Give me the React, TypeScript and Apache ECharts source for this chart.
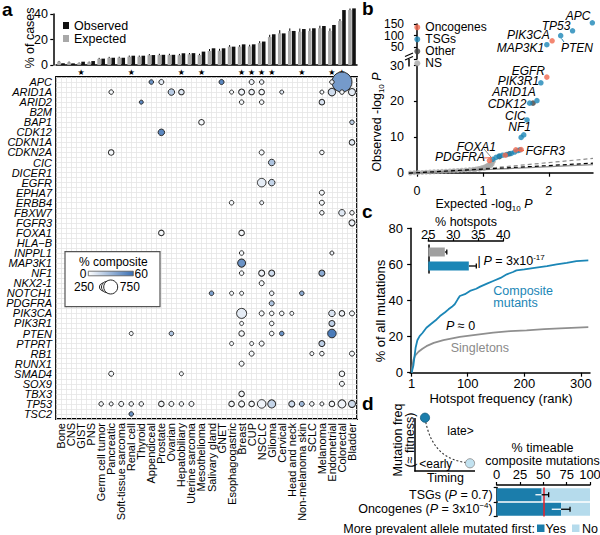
import React, { useEffect, useRef } from 'react';
import * as echarts from 'echarts';

const FONT = '"Liberation Sans", Arial, Helvetica, sans-serif';

// ---------- Panel a ----------
const cancers = ['Bone','CNS','GIST','PNS','Germ cell tumor','Pancreatic','Soft-tissue sarcoma','Renal cell','Thyroid','Appendiceal','Prostate','Ovarian','Hepatobiliary','Uterine sarcoma','Mesothelioma','Salivary gland','GNET','Esophagogastric','Breast','CUP','NSCLC','Glioma','Cervical','Head and neck','Non-melanoma skin','SCLC','Melanoma','Endometrial','Colorectal','Bladder'];
const observedPct = [1.3,1.3,2.6,3.1,5.0,5.7,5.7,7.3,7.3,7.8,8.0,8.0,9.2,9.3,10.5,13.1,13.1,14.4,16.2,16.2,18.4,24.1,24.8,26.7,28.2,28.8,30.6,31.4,43.1,44.4];
const expectedPct = [2.6,2.1,1.5,2.1,4.8,5.6,5.7,6.5,6.5,7.7,7.8,7.8,7.7,8.4,7.8,11.0,11.2,14.4,14.4,14.6,17.2,21.9,24.8,26.7,26.1,26.7,28.8,26.7,34.5,43.1];
const expectedErr = [0.6,0.6,0.5,0.6,0.8,0.8,0.8,0.9,0.9,0.9,1,1,1,1,1,1.5,1.5,1.2,1.2,1.3,1.5,1.8,2.5,2,2.5,2,2,2,1.5,1.2];
const significant = [0,0,1,0,0,0,0,1,0,0,0,0,1,0,1,0,0,0,1,1,1,1,0,0,1,0,0,1,1,0];
const yTicksA = [0, 20, 40];
const genes = ['APC','ARID1A','ARID2','B2M','BAP1','CDK12','CDKN1A','CDKN2A','CIC','DICER1','EGFR','EPHA7','ERBB4','FBXW7','FGFR3','FOXA1','HLA\u2212B','INPPL1','MAP3K1','NF1','NKX2-1','NOTCH1','PDGFRA','PIK3CA','PIK3R1','PTEN','PTPRT','RB1','RUNX1','SMAD4','SOX9','TBX3','TP53','TSC2'];
// [gene, cancer type, N, % composite]
const bubbles: [string, string, number, number][] = [
  ['APC','Appendiceal',78,45],['APC','Prostate',96,8],['APC','GNET',96,50],['APC','CUP',96,5],['APC','NSCLC',78,5],['APC','Endometrial',78,5],['APC','Colorectal',1530,42],
  ['ARID1A','Pancreatic',78,3],['ARID1A','Ovarian',162,22],['ARID1A','Hepatobiliary',116,10],['ARID1A','Esophagogastric',61,3],['ARID1A','Breast',138,5],['ARID1A','CUP',116,5],['ARID1A','NSCLC',116,3],['ARID1A','Cervical',61,10],['ARID1A','Melanoma',61,3],['ARID1A','Endometrial',215,15],['ARID1A','Colorectal',78,3],['ARID1A','Bladder',188,8],
  ['ARID2','Thyroid',61,50],['ARID2','Breast',78,3],['ARID2','NSCLC',78,3],['ARID2','Melanoma',116,12],
  ['BAP1','Mesothelioma',116,3],['BAP1','Bladder',78,20],
  ['CDK12','Prostate',162,50],
  ['CDKN1A','Bladder',116,8],
  ['CDKN2A','Pancreatic',116,3],['CDKN2A','NSCLC',96,3],['CDKN2A','Melanoma',78,3],
  ['CIC','Glioma',162,25],
  ['EGFR','NSCLC',277,8],['EGFR','Glioma',162,18],
  ['EPHA7','Melanoma',96,3],
  ['ERBB4','Esophagogastric',78,3],['ERBB4','NSCLC',61,5],['ERBB4','Melanoma',96,3],
  ['FBXW7','Melanoma',78,3],['FBXW7','Colorectal',162,10],['FBXW7','Bladder',78,3],
  ['FGFR3','Bladder',138,5],
  ['FOXA1','Prostate',116,3],['FOXA1','Breast',116,3],
  ['INPPL1','Breast',78,3],['INPPL1','Endometrial',61,5],
  ['MAP3K1','Breast',245,45],
  ['NF1','Breast',78,3],['NF1','NSCLC',138,5],['NF1','Glioma',138,15],['NF1','Melanoma',138,35],
  ['NKX2-1','NSCLC',96,3],
  ['NOTCH1','Salivary gland',78,40],['NOTCH1','Esophagogastric',61,3],['NOTCH1','Breast',61,3],['NOTCH1','Glioma',78,5],['NOTCH1','Non-melanoma skin',78,35],
  ['PDGFRA','Glioma',96,25],
  ['PIK3CA','Breast',383,8],['PIK3CA','NSCLC',96,3],['PIK3CA','Glioma',78,3],['PIK3CA','Cervical',78,3],['PIK3CA','Head and neck',61,3],['PIK3CA','Endometrial',162,12],['PIK3CA','Colorectal',116,5],['PIK3CA','Bladder',96,3],
  ['PIK3R1','Breast',61,3],['PIK3R1','Glioma',78,3],['PIK3R1','Endometrial',138,20],
  ['PTEN','Renal cell',61,3],['PTEN','Ovarian',78,25],['PTEN','Breast',116,3],['PTEN','Glioma',78,3],['PTEN','Cervical',78,45],['PTEN','Endometrial',277,55],
  ['PTPRT','Esophagogastric',61,3],['PTPRT','CUP',61,3],['PTPRT','NSCLC',96,3],['PTPRT','Melanoma',138,20],
  ['RB1','CUP',96,3],['RB1','SCLC',61,3],['RB1','Melanoma',78,3],['RB1','Bladder',96,3],
  ['RUNX1','Breast',96,3],
  ['SMAD4','Pancreatic',96,3],['SMAD4','Hepatobiliary',61,3],['SMAD4','Colorectal',116,3],
  ['SOX9','Colorectal',96,3],
  ['TBX3','Breast',116,3],
  ['TP53','Germ cell tumor',78,3],['TP53','Pancreatic',61,3],['TP53','Soft-tissue sarcoma',96,3],['TP53','Renal cell',78,3],['TP53','Thyroid',78,3],['TP53','Prostate',116,3],['TP53','Ovarian',96,3],['TP53','Hepatobiliary',78,3],['TP53','Uterine sarcoma',96,3],['TP53','Esophagogastric',116,3],['TP53','Breast',138,3],['TP53','CUP',116,3],['TP53','NSCLC',277,5],['TP53','Glioma',245,18],['TP53','Head and neck',138,15],['TP53','Non-melanoma skin',96,30],['TP53','SCLC',78,3],['TP53','Melanoma',61,3],['TP53','Endometrial',116,3],['TP53','Colorectal',245,5],['TP53','Bladder',188,15],
  ['TSC2','Renal cell',78,45],
];
const legendN = [250, 500, 750];

// ---------- Panel b ----------
const nsPoints = [[-0.1,-0.08],[-0.04,0],[0.02,0.05],[0.08,0.08],[0.14,0.15],[0.2,0.2],[0.26,0.26],[0.32,0.3],[0.38,0.38],[0.44,0.43],[0.5,0.5],[0.56,0.55],[0.62,0.62],[0.68,0.7],[0.74,0.77],[0.8,0.86],[0.85,0.95],[0.9,1.05],[0.94,1.2],[0.98,1.35],[1.01,1.5],[1.04,1.7],[1.06,1.9],[1.08,2.1],[1.1,2.35],[1.12,2.6],[1.14,2.9],[1.16,3.2],[0.95,1.0],[1.02,1.25],[1.08,1.6],[1.12,2.0],[0.88,0.85],[1.14,2.4]];
const tsgLower = [[1.88,25.2],[1.82,20.2],[1.71,19.5],[1.67,14.8],[1.62,10.6],[1.58,9.9],[1.15,3.75],[1.2,4.3],[1.25,4.7],[1.3,4.9],[1.36,5.1],[1.43,5.4],[1.48,5.8],[1.53,6.2],[1.56,6.4]];
const tsgUpper = [[2.66,155],[2.36,121],[2.18,100],[1.97,61]];
const oncLower = [[1.97,26.8],[1.1,3.4],[1.34,4.9],[1.5,6.4],[1.58,6.5]];
const oncUpper = [[2.05,78]];
const otherLower = [[1.76,19.5],[1.25,4.5],[1.4,5.3]];
const expectedLine = [[-0.12,-0.12],[2.67,2.67]];
const ciUpper = [[-0.12,-0.12],[1.2,1.45],[2.67,4.0]];
const ciLower = [[-0.12,-0.12],[1.2,1.0],[2.67,2.25]];
const yTicksBLower = [0, 10, 20, 30];
const yTicksBUpper = [50, 100, 150];

// ---------- Panel c ----------
const compositeCurve = [[1,0],[2,1.5],[4,4],[6,9],[8,14],[11,18],[15,20.3],[20,22],[27,24.9],[35,27],[45,29.5],[51,31.4],[60,33.5],[66,35.1],[72,36.5],[77,37.9],[82,40.5],[86,42.5],[95,43.5],[104,45.3],[115,46.5],[122,47.7],[135,49.5],[145,50.8],[158,52.5],[169,54.5],[180,55.8],[186,56.7],[200,57.2],[221,58.2],[240,59],[257,60],[275,60.8],[292,61.8],[313,62.2]];
const singletonCurve = [[1,0],[2,3],[4,7],[7,9.5],[13,11.6],[20,13.3],[27,14.7],[40,16.5],[57,18],[86,19.8],[110,20.8],[145,22.2],[175,23],[204,23.5],[235,24.1],[263,24.6],[313,25.2]];
const yTicksC = [0, 20, 40, 60, 80];
const hotspotCats = ['Singletons','Composite'];
const hotspotPct = [28.3, 33.1];
const hotspotErr = [[27.9,28.3,28.7],[31.6,33.1,34.6]];

// ---------- Panel d ----------
const timingCats = ['TSGs','Oncogenes'];
const timingP = ['{n|0.7}','{n|3x10}{sup|\u22124}'];
const yesPct = [48.2, 69];
const noPct = [51.8, 31];
const yesErr = [[41.5,48.2,55.7],[59,69,78.6]];

const TEAL = '#1b86b6';
const ORANGE = '#f0694f';
const BUBBLE_BLUE = '#3a6fb3';
const YES = '#1b7dab';
const NO = '#b5dbec';
const sizeOf = (n: number) => 14 * Math.sqrt(n / 750);

const rt = (extra: any = {}) => ({ fontFamily: FONT, fontSize: 12.5, fontStyle: 'normal', fill: '#000', color: '#000', ...extra });

const T = (x: number, y: number, text: string, o: any = {}) => ({
  type: 'text', x, y, rotation: o.rot || 0, silent: true, z: 20,
  style: {
    text, fill: o.color || '#000', fontFamily: FONT, fontSize: o.size || 12.5,
    fontStyle: o.italic ? 'italic' : 'normal', fontWeight: o.bold ? 'bold' : 'normal',
    align: o.align || 'left', verticalAlign: o.va || 'middle',
    textAlign: o.align || 'left', textVerticalAlign: o.va || 'middle',
    rich: o.rich,
  },
});
const L = (x1: number, y1: number, x2: number, y2: number, stroke = '#000', lw = 1, dash?: number[]) => ({
  type: 'line', silent: true, z: 20, shape: { x1, y1, x2, y2 }, style: { stroke, lineWidth: lw, lineDash: dash },
});

const blackLine = { show: true, lineStyle: { color: '#000', width: 1.5 } };
const lab = (extra: any = {}) => ({ show: true, color: '#000', fontSize: 12.5, fontFamily: FONT, ...extra });
const tick = (extra: any = {}) => ({ show: true, length: 4, lineStyle: { color: '#000', width: 1.2 }, ...extra });
const num = (v: number) => String(v);

// vertical value axes whose tick labels are placed through the axis scale
const yTickSpecs = [
  { yAxisIndex: 0, values: yTicksA, right: 48, size: 12.5 },
  { yAxisIndex: 2, values: yTicksBLower, right: 404, size: 12.5 },
  { yAxisIndex: 3, values: yTicksBUpper, right: 404, size: 12 },
  { yAxisIndex: 4, values: yTicksC, right: 403, size: 13 },
];

function buildOption() {
  const bubbleData = bubbles
    .map(([g, c, n, p]) => [cancers.indexOf(c), genes.indexOf(g), n, p])
    .sort((a, b) => b[2] - a[2]);

  const grids = [
    { left: 56, top: 14, width: 301, height: 51 },
    { left: 56, top: 77, width: 301, height: 342, show: true, borderColor: '#000', borderWidth: 1.8, backgroundColor: '#fff' },
    { left: 409, top: 65.7, width: 184, height: 107 },
    { left: 409, top: 24, width: 184, height: 34.95 },
    { left: 410, top: 228.3, width: 180, height: 144.4 },
    { left: 428.3, top: 245, width: 75, height: 28 },
    { left: 496.7, top: 487.5, width: 93.3, height: 29 },
  ].map((g) => ({ containLabel: false, outerBoundsMode: 'none', ...g }));

  const gridLine = { show: true, lineStyle: { color: '#e4e4e4', width: 0.8 } };

  const xAxis: any[] = [
    { gridIndex: 0, type: 'category', data: cancers, boundaryGap: true, axisLine: blackLine, axisTick: { show: false },
      axisLabel: { interval: 0, formatter: (_v: any, i: number) => (significant[i] ? '\u2605' : ''), fontSize: 8, color: '#000', margin: 3, fontFamily: 'DejaVu Sans' }, splitLine: { show: false } },
    { gridIndex: 1, type: 'category', data: cancers, boundaryGap: true, position: 'bottom', axisLine: { show: false }, axisTick: { show: false },
      axisLabel: lab({ interval: 0, rotate: 90, fontSize: 11, margin: 4 }), splitLine: { show: false } },
    { gridIndex: 2, type: 'value', min: -0.12, max: 2.67, offset: 5.6, axisLine: blackLine, axisTick: tick({ customValues: [0, 1, 2] }),
      axisLabel: lab({ customValues: [0, 1, 2], formatter: num, margin: 6 }), splitLine: { show: false } },
    { gridIndex: 3, type: 'value', min: -0.12, max: 2.67, show: false },
    { gridIndex: 4, type: 'value', min: -2, max: 316, offset: 3, axisLine: blackLine, axisTick: tick({ customValues: [1, 100, 200, 300] }),
      axisLabel: lab({ customValues: [1, 100, 200, 300], formatter: num, margin: 1, fontSize: 13 }), splitLine: { show: false } },
    { gridIndex: 5, type: 'value', position: 'top', min: 25, max: 40, interval: 5, offset: 4, axisLine: blackLine, axisTick: tick({ length: 3 }),
      axisLabel: lab({ margin: 0, fontSize: 13 }), splitLine: { show: false } },
    { gridIndex: 6, type: 'value', position: 'top', min: 0, max: 100, interval: 25, offset: 2.5, axisLine: blackLine, axisTick: tick({ length: 3 }),
      axisLabel: lab({ margin: 4, fontSize: 13 }), splitLine: { show: false } },
    { gridIndex: 1, type: 'value', position: 'top', min: -0.5, max: 29.5, interval: 0.5, axisLine: { show: false }, axisTick: { show: false }, axisLabel: { show: false }, splitLine: gridLine },
  ];

  const yAxis: any[] = [
    { gridIndex: 0, type: 'value', min: 0, max: 40, interval: 20, offset: 2.7, axisLine: blackLine, axisTick: tick({ length: 3 }), axisLabel: { show: false }, splitLine: { show: false } },
    { gridIndex: 1, type: 'category', data: genes, inverse: true, boundaryGap: true, position: 'left', axisLine: { show: false }, axisTick: { show: false },
      axisLabel: lab({ interval: 0, fontSize: 11, fontStyle: 'italic', margin: 4 }), splitLine: { show: false } },
    { gridIndex: 2, type: 'value', min: 0, max: 30, interval: 10, axisLine: blackLine, axisTick: tick({ length: 3 }), axisLabel: { show: false }, splitLine: { show: false } },
    { gridIndex: 3, type: 'value', min: 0, max: 150, interval: 50, axisLine: blackLine, axisTick: tick({ length: 3 }), axisLabel: { show: false }, splitLine: { show: false } },
    { gridIndex: 4, type: 'value', min: 0, max: 80, interval: 20, axisLine: blackLine, axisTick: tick(), axisLabel: { show: false }, splitLine: { show: false } },
    { gridIndex: 5, type: 'category', data: hotspotCats, inverse: true, axisLine: blackLine, axisTick: { show: false }, axisLabel: { show: false } },
    { gridIndex: 6, type: 'category', data: timingCats, inverse: true, axisLine: blackLine, axisTick: tick({ length: 3 }),
      axisLabel: {
        margin: 4, interval: 0,
        formatter: (v: string, i: number) => `{n|${v} (}{i|P}{n| = }${timingP[i]}{n|)}`,
        rich: { n: rt(), i: rt({ fontStyle: 'italic' }), sup: rt({ fontSize: 8, verticalAlign: 'top', lineHeight: 15 }) },
      } },
    { gridIndex: 1, type: 'value', position: 'right', inverse: true, min: -0.5, max: 33.5, interval: 0.5, axisLine: { show: false }, axisTick: { show: false }, axisLabel: { show: false }, splitLine: gridLine },
  ];

  const errV = (params: any, api: any) => {
    const a = api.coord([api.value(0), api.value(1)]);
    const b = api.coord([api.value(0), api.value(2)]);
    return { type: 'line', shape: { x1: a[0] - 2, y1: a[1], x2: b[0] - 2, y2: b[1] }, style: { stroke: '#000', lineWidth: 1 } };
  };
  const errH = (params: any, api: any) => {
    const c = api.value(0);
    const lo = api.coord([api.value(1), c]);
    const mid = api.coord([api.value(2), c]);
    const hi = api.coord([api.value(3), c]);
    const y = lo[1];
    return { type: 'group', children: [
      { type: 'line', shape: { x1: lo[0], y1: y, x2: mid[0], y2: y }, style: { stroke: '#fff', lineWidth: 1.3 } },
      { type: 'line', shape: { x1: mid[0], y1: y, x2: hi[0], y2: y }, style: { stroke: '#000', lineWidth: 1.3 } },
      { type: 'line', shape: { x1: hi[0], y1: y - 2.5, x2: hi[0], y2: y + 2.5 }, style: { stroke: '#000', lineWidth: 1.3 } },
    ] };
  };

  const series: any[] = [];
  series.push({ name: 'Expected', type: 'bar', xAxisIndex: 0, yAxisIndex: 0, data: expectedPct, barWidth: 3.6, barGap: '12%', clip: false, itemStyle: { color: '#a8a8a8' } });
  series.push({ name: 'Observed', type: 'bar', xAxisIndex: 0, yAxisIndex: 0, data: observedPct, barWidth: 3.6, clip: false, itemStyle: { color: '#111' } });
  series.push({ type: 'custom', xAxisIndex: 0, yAxisIndex: 0, data: expectedPct.map((v, i) => [i, v - expectedErr[i], v + expectedErr[i]]), encode: { x: 0, y: [1, 2] }, renderItem: errV, silent: true, clip: false });
  const bubbleIdx = series.length;
  series.push({ type: 'scatter', xAxisIndex: 1, yAxisIndex: 1, data: bubbleData, clip: false, symbolSize: (v: number[]) => sizeOf(v[2]),
    itemStyle: { borderColor: '#2a2a2a', borderWidth: 1, opacity: 1 } });

  // panel b
  series.push({ type: 'line', xAxisIndex: 2, yAxisIndex: 2, data: ciLower, showSymbol: false, silent: true, clip: false, lineStyle: { color: '#8c8c8c', width: 1.3 } });
  series.push({ type: 'line', xAxisIndex: 2, yAxisIndex: 2, data: ciUpper, showSymbol: false, silent: true, clip: false, lineStyle: { color: '#8c8c8c', width: 1.2, type: [4, 3] } });
  series.push({ type: 'line', xAxisIndex: 2, yAxisIndex: 2, data: expectedLine, showSymbol: false, silent: true, clip: false, lineStyle: { color: '#000', width: 1.2, type: [4, 3] } });
  series.push({ name: 'NS', type: 'scatter', xAxisIndex: 2, yAxisIndex: 2, data: nsPoints, symbolSize: 5, clip: false, itemStyle: { color: '#a9a9a9' } });
  series.push({ name: 'Other', type: 'scatter', xAxisIndex: 2, yAxisIndex: 2, data: otherLower, symbolSize: 5.5, clip: false, itemStyle: { color: '#404040' } });
  series.push({ name: 'TSGs', type: 'scatter', xAxisIndex: 2, yAxisIndex: 2, data: tsgLower, symbolSize: 5.5, clip: false, itemStyle: { color: TEAL } });
  series.push({ name: 'TSGs', type: 'scatter', xAxisIndex: 3, yAxisIndex: 3, data: tsgUpper, symbolSize: 5.5, clip: false, itemStyle: { color: TEAL } });
  series.push({ name: 'Oncogenes', type: 'scatter', xAxisIndex: 2, yAxisIndex: 2, data: oncLower, symbolSize: 5.5, clip: false, itemStyle: { color: ORANGE } });
  series.push({ name: 'Oncogenes', type: 'scatter', xAxisIndex: 3, yAxisIndex: 3, data: oncUpper, symbolSize: 5.5, clip: false, itemStyle: { color: ORANGE } });

  // panel c
  series.push({ type: 'line', xAxisIndex: 4, yAxisIndex: 4, data: singletonCurve, showSymbol: false, silent: true, clip: false, lineStyle: { color: '#8f8f8f', width: 1.8 } });
  series.push({ type: 'line', xAxisIndex: 4, yAxisIndex: 4, data: compositeCurve, showSymbol: false, silent: true, clip: false, lineStyle: { color: TEAL, width: 1.8 } });
  series.push({ type: 'bar', xAxisIndex: 5, yAxisIndex: 5, barWidth: 9, silent: true,
    data: hotspotPct.map((v, i) => ({ value: v, itemStyle: { color: i === 0 ? '#a0a0a0' : TEAL } })) });
  series.push({ type: 'custom', xAxisIndex: 5, yAxisIndex: 5, data: hotspotErr.map((e, i) => [i, ...e]), encode: { x: [1, 2, 3], y: 0 }, renderItem: errH, silent: true });

  // panel d
  series.push({ name: 'Yes', type: 'bar', stack: 'd', xAxisIndex: 6, yAxisIndex: 6, data: yesPct, barWidth: 13, itemStyle: { color: YES },
    markLine: { silent: true, symbol: 'none', label: { show: false }, lineStyle: { color: '#e8202a', width: 1.5, type: 'solid' }, data: [{ xAxis: 50 }] } });
  series.push({ name: 'No', type: 'bar', stack: 'd', xAxisIndex: 6, yAxisIndex: 6, data: noPct, barWidth: 13, itemStyle: { color: NO } });
  series.push({ type: 'custom', xAxisIndex: 6, yAxisIndex: 6, data: yesErr.map((e, i) => [i, ...e]), encode: { x: [1, 2, 3], y: 0 }, renderItem: errH, silent: true, z: 5 });

  const richLog = {
    sub: rt({ fontSize: 8, verticalAlign: 'bottom', lineHeight: 16 }),
    i: rt({ fontStyle: 'italic', lineHeight: 16 }),
  };
  const richP = {
    i: rt({ fontStyle: 'italic' }),
    sup: rt({ fontSize: 8, verticalAlign: 'top', lineHeight: 15 }),
  };

  const legR = legendN.map((n) => sizeOf(n) / 2);
  const legLeft = [99.5, 101.5, 103.7];
  const legCircles = legR.map((r, k) => ({ type: 'circle', silent: true, z: 22, shape: { cx: legLeft[k] + r, cy: 287, r }, style: { fill: '#fff', stroke: '#222', lineWidth: 1 } }));
  const bigCx = legLeft[2] + legR[2];

  const geneLabels: [string, number, number][] = [
    ['APC', 565.7, 15.7], ['TP53', 541.7, 26], ['PIK3CA', 507, 35.3], ['MAP3K1', 496.7, 48.3], ['PTEN', 561, 47.7],
    ['EGFR', 511.7, 70.7], ['PIK3R1', 497.7, 80.7], ['ARID1A', 492.3, 92.3], ['CDK12', 487.7, 104.3], ['CIC', 505, 116],
    ['NF1', 508.3, 127.3], ['FOXA1', 456.7, 146.7], ['PDGFRA', 435, 156.7], ['FGFR3', 525.7, 150.7],
  ];

  const graphic: any[] = [
    T(2, 9, 'a', { bold: true, size: 19 }),
    T(362, 8.5, 'b', { bold: true, size: 19 }),
    T(362, 211.7, 'c', { bold: true, size: 19 }),
    T(362, 403.4, 'd', { bold: true, size: 19 }),
    T(30, 38, '% of cases', { rot: Math.PI / 2, align: 'center' }),
    // bubble legend
    { type: 'rect', silent: true, z: 20, shape: { x: 65, y: 251.7, width: 95, height: 55 }, style: { fill: '#fff', stroke: '#555', lineWidth: 1.2 } },
    T(113.3, 261.5, '% composite', { align: 'center', size: 12 }),
    T(86.5, 273.5, '0', { align: 'right', size: 12 }),
    { type: 'rect', silent: true, z: 21, shape: { x: 88.3, y: 271.2, width: 45, height: 4.6 },
      style: { fill: new echarts.graphic.LinearGradient(0, 0, 1, 0, [{ offset: 0, color: '#ffffff' }, { offset: 1, color: BUBBLE_BLUE }]), stroke: '#555', lineWidth: 0.8 } },
    T(134.5, 273.5, '60', { size: 12 }),
    T(94, 287, String(legendN[0]), { align: 'right', size: 12 }),
    ...legCircles,
    T(bigCx, 287, 'N', { align: 'center', size: 10.5 }),
    T(119.8, 287, String(legendN[2]), { size: 12 }),
    // panel b
    ...geneLabels.map(([g, x, y]) => T(x, y, g, { italic: true, size: 12 })),
    L(564, 42, 561.5, 38.5, TEAL, 1),
    L(484, 149, 491, 157, '#888', 1),
    L(484, 158, 492, 157.5, ORANGE, 1),
    L(517, 150.5, 524, 150.5, ORANGE, 1),
    L(409, 59, 409, 66.5, '#000', 1.5),
    { type: 'rect', silent: true, z: 19, shape: { x: 403, y: 54.3, width: 12, height: 4.2 }, style: { fill: '#fff' } },
    L(405, 56.5, 413, 53, '#000', 1.2),
    L(405, 60, 413, 56.5, '#000', 1.2),
    T(377, 122, 'Observed -log{sub|10} {i|P}', { rot: Math.PI / 2, align: 'center', rich: richLog }),
    T(484, 204, 'Expected -log{sub|10} {i|P}', { align: 'center', rich: richLog }),
    // panel c
    T(380, 311, '% of all mutations', { rot: Math.PI / 2, align: 'center', size: 13 }),
    T(501, 398, 'Hotspot frequency (rank)', { align: 'center', size: 13 }),
    T(466, 222, '% hotspots', { align: 'center', size: 12.5 }),
    T(477.5, 260.7, '|', { size: 12.5 }),
    T(483.5, 261, '{i|P} = 3x10{sup|-17}', { rich: richP }),
    T(446, 326, '{i|P} \u2248 0', { rich: richP }),
    T(493.3, 290.7, 'Composite', { color: TEAL }),
    T(493.3, 302.7, 'mutants', { color: TEAL }),
    T(450.7, 347.7, 'Singletons', { color: '#8a8a8a' }),
    // panel d schematic
    L(415, 418, 415, 471.5, '#000', 1.5),
    L(414.3, 471, 475, 471, '#000', 1.5),
    { type: 'bezierCurve', silent: true, z: 20, shape: { x1: 425, y1: 418, x2: 470, y2: 463, cpx1: 430, cpy1: 448, cpx2: 445, cpy2: 461 }, style: { stroke: '#333', lineWidth: 1.1, lineDash: [2, 2], fill: 'none' } },
    { type: 'circle', silent: true, z: 21, shape: { cx: 425, cy: 417.7, r: 4.6 }, style: { fill: YES, stroke: '#125a7e', lineWidth: 0.8 } },
    { type: 'circle', silent: true, z: 21, shape: { cx: 470, cy: 463.3, r: 4.6 }, style: { fill: '#c2e2f0', stroke: '#888', lineWidth: 0.8 } },
    T(397.5, 440, 'Mutation freq', { rot: Math.PI / 2, align: 'center' }),
    T(409.5, 440, '(\u2248 fitness)', { rot: Math.PI / 2, align: 'center' }),
    T(447.3, 431, 'late>', { size: 12 }),
    T(419.3, 463.5, '<early', { size: 12 }),
    T(445.5, 478.3, 'Timing', { align: 'center' }),
    T(542.5, 448, '% timeable', { align: 'center', size: 12.5 }),
    T(542.5, 461, 'composite mutations', { align: 'center', size: 12.5 }),
    T(535, 528.5, 'More prevalent allele mutated first:', { align: 'right' }),
    { type: 'rect', silent: true, z: 20, shape: { x: 537, y: 524.5, width: 7.5, height: 7.5 }, style: { fill: YES } },
    T(545.5, 528.5, 'Yes'),
    { type: 'rect', silent: true, z: 20, shape: { x: 572, y: 524.5, width: 7.5, height: 7.5 }, style: { fill: NO } },
    T(582, 528.5, 'No'),
  ];

  return {
    animation: false,
    backgroundColor: '#fff',
    textStyle: { fontFamily: FONT, color: '#000' },
    grid: grids,
    xAxis,
    yAxis,
    visualMap: [{ type: 'continuous', show: false, seriesIndex: bubbleIdx, dimension: 3, min: 0, max: 60, inRange: { color: ['#ffffff', BUBBLE_BLUE] } }],
    legend: [
      { data: ['Observed', 'Expected'], left: 63, top: 19, orient: 'vertical', icon: 'rect', itemWidth: 6, itemHeight: 7, itemGap: 0, padding: 0, selectedMode: false,
        textStyle: { fontSize: 12.5, lineHeight: 12.3, color: '#000', fontFamily: FONT } },
      { data: ['Oncogenes', 'TSGs', 'Other', 'NS'], left: 414.3, top: 21.3, orient: 'vertical', icon: 'circle', itemWidth: 6, itemHeight: 6, itemGap: 0, padding: 0, selectedMode: false,
        textStyle: { fontSize: 12, lineHeight: 12, color: '#000', fontFamily: FONT } },
    ],
    series,
    graphic,
  };
}

// Tick labels of the vertical value axes: pixel from the axis scale, with the axis extent as a fallback
function tickLabelGraphics(chart: any, option: any) {
  const out: any[] = [];
  yTickSpecs.forEach((s) => {
    const ax = option.yAxis[s.yAxisIndex];
    const g = option.grid[ax.gridIndex];
    s.values.forEach((v) => {
      let py: any = null;
      try { py = chart.convertToPixel({ yAxisIndex: s.yAxisIndex }, v); } catch (e) { py = null; }
      if (Array.isArray(py)) py = py[1];
      if (typeof py !== 'number' || !isFinite(py)) py = g.top + g.height * (1 - (v - ax.min) / (ax.max - ax.min));
      out.push(T(s.right, py, String(v), { align: 'right', size: s.size }));
    });
  });
  return out;
}

export default function App() {
  const ref = useRef<HTMLDivElement>(null);
  useEffect(() => {
    document.body.style.margin = '0';
    const chart = echarts.init(ref.current!, null, { renderer: 'svg' });
    const option: any = buildOption();
    chart.setOption(option);
    const extra = tickLabelGraphics(chart, option);
    chart.setOption({ graphic: [...option.graphic, ...extra] });
    return () => chart.dispose();
  }, []);
  return <div ref={ref} style={{ width: 600, height: 535 }} />;
}
